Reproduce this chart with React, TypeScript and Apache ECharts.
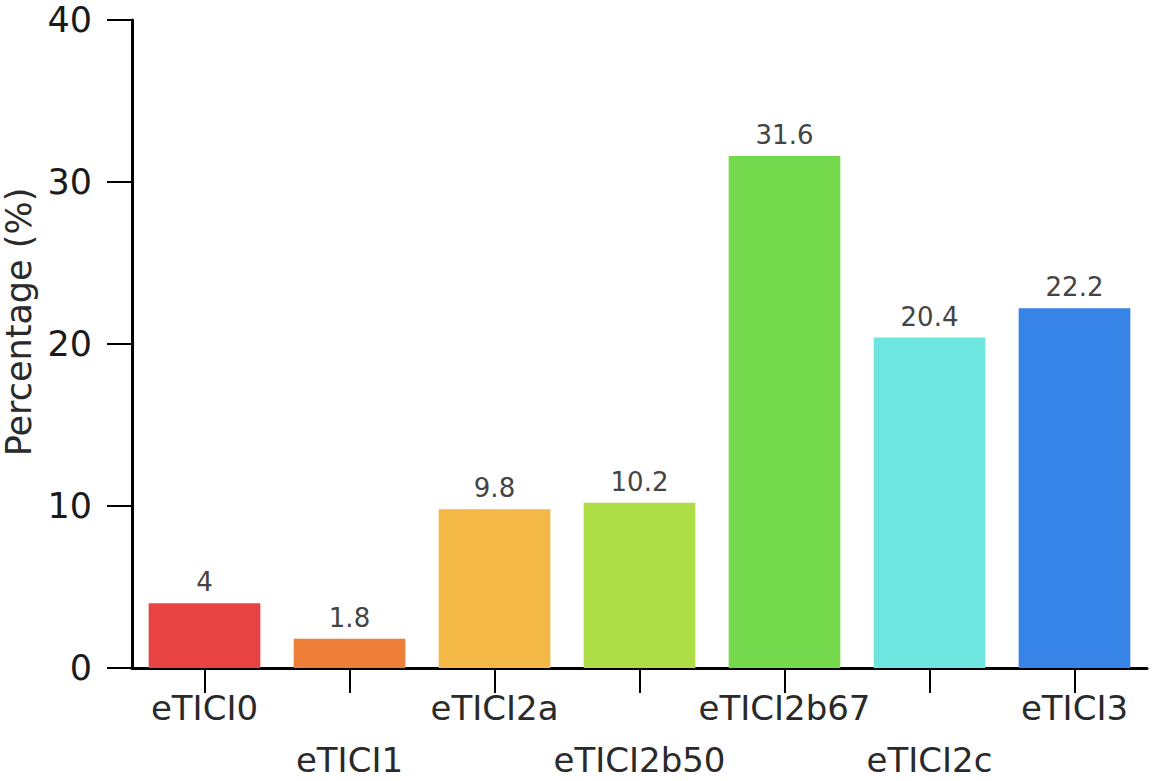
import React, { useEffect, useRef } from "react";
import * as echarts from "echarts";

const categories = ["eTICI0", "eTICI1", "eTICI2a", "eTICI2b50", "eTICI2b67", "eTICI2c", "eTICI3"];
const values = [4, 1.8, 9.8, 10.2, 31.6, 20.4, 22.2];
const barColors = ["#E84343", "#EE7F38", "#F3B845", "#AEDD45", "#74D94D", "#6EE6E0", "#3784E8"];
const yTicks = { min: 0, max: 40, interval: 10 };

const FONT = "'DejaVu Sans', 'Open Sans', sans-serif";

export default function App() {
  const ref = useRef<HTMLDivElement>(null);
  useEffect(() => {
    document.body.style.margin = "0";
    const chart = echarts.init(ref.current!, undefined, { renderer: "svg" });
    chart.setOption({
      animation: false,
      backgroundColor: "#ffffff",
      textStyle: { fontFamily: FONT },
      grid: {
        left: 132,
        right: 20,
        top: 20,
        bottom: 113,
        containLabel: false,
        outerBoundsMode: "none",
      },
      xAxis: {
        type: "category",
        data: categories,
        axisLine: { show: true, lineStyle: { color: "#000", width: 3 } },
        axisTick: {
          show: true,
          alignWithLabel: true,
          length: 25,
          lineStyle: { color: "#000", width: 2 },
        },
        axisLabel: {
          interval: 0,
          fontSize: 34,
          color: "#2a2a2a",
          fontFamily: FONT,
          margin: 14,
          lineHeight: 52,
          formatter: (v: string, i: number) => (i % 2 === 1 ? "\n" + v : v),
        },
      },
      yAxis: {
        type: "value",
        min: yTicks.min,
        max: yTicks.max,
        interval: yTicks.interval,
        name: "Percentage (%)",
        nameLocation: "middle",
        nameGap: 93,
        nameTextStyle: {
          fontSize: 35,
          color: "#2a2a2a",
          fontFamily: FONT,
          padding: [0, 0, 0, 44],
        },
        splitLine: { show: false },
        axisLine: { show: true, lineStyle: { color: "#000", width: 3 } },
        axisTick: { show: true, length: 25, lineStyle: { color: "#000", width: 2 } },
        axisLabel: { fontSize: 35, color: "#1a1a1a", margin: 40, fontFamily: FONT },
      },
      series: [
        {
          type: "bar",
          data: values.map((v, i) => ({ value: v, itemStyle: { color: barColors[i] } })),
          barWidth: "77%",
          label: {
            show: true,
            position: "top",
            distance: 8,
            fontSize: 26,
            color: "#444",
            fontFamily: FONT,
          },
        },
      ],
    });
    return () => chart.dispose();
  }, []);
  return <div ref={ref} style={{ width: 1167, height: 781 }} />;
}
